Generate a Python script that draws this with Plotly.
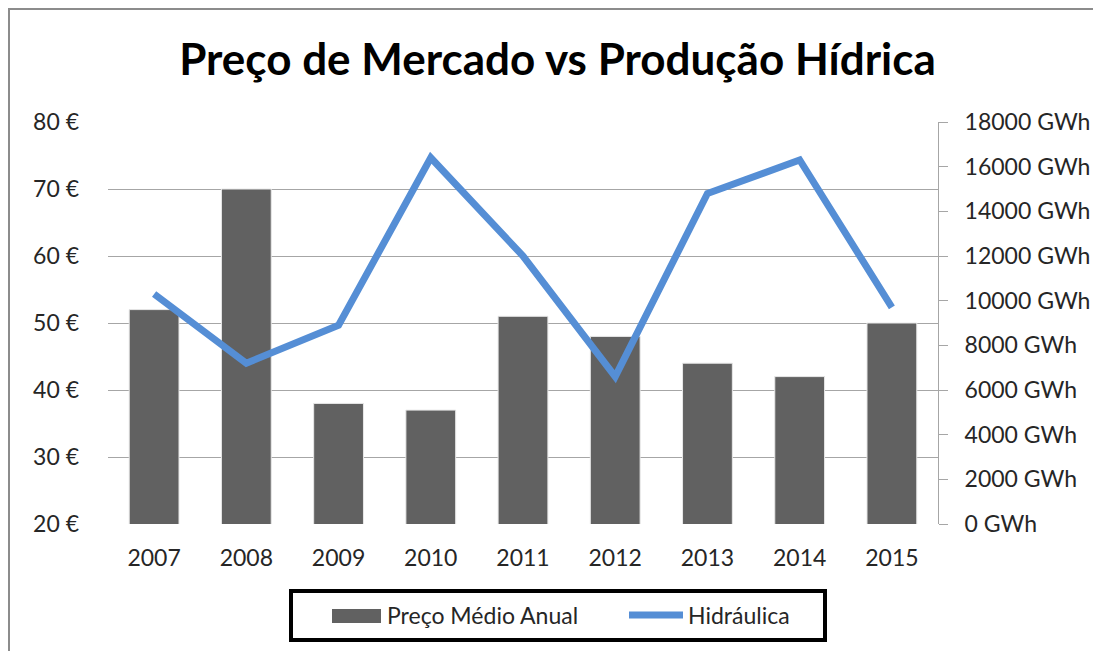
import plotly.graph_objects as go

years = ["2007", "2008", "2009", "2010", "2011", "2012", "2013", "2014", "2015"]
preco = [52, 70, 38, 37, 51, 48, 44, 42, 50]
hidraulica = [10300, 7200, 8900, 16400, 12000, 6600, 14800, 16300, 9700]

FONT = "Lato"
TXT = "#262626"
BAR_C = "#616161"
LINE_C = "#558ED5"

W, H = 1101, 651
L, R, T, B = 100, 171, 114, 135
PW, PH = W - L - R, H - T - B


def px(x):
    return (x - L) / PW


def py(y):
    return (H - B - y) / PH


fig = go.Figure()
fig.add_trace(go.Bar(
    x=years, y=preco, name="Preço Médio Anual",
    marker=dict(color=BAR_C, line=dict(color="#E8E8E8", width=1)),
    yaxis="y", showlegend=False,
))
fig.add_trace(go.Scatter(
    x=years, y=hidraulica, name="Hidráulica", mode="lines",
    line=dict(color=LINE_C, width=7), yaxis="y2", showlegend=False,
))

shapes = [
    # chart border
    dict(type="rect", xref="paper", yref="paper",
         x0=px(1), x1=px(W - 1), y0=py(H - 1), y1=py(1),
         line=dict(color="#8C8C8C", width=2), layer="below"),
    # legend box
    dict(type="rect", xref="paper", yref="paper",
         x0=px(283), x1=px(817), y0=py(632), y1=py(583),
         line=dict(color="#000000", width=4), fillcolor="white"),
    # legend symbols
    dict(type="rect", xref="paper", yref="paper",
         x0=px(324), x1=px(373), y0=py(615), y1=py(601),
         line=dict(width=0), fillcolor=BAR_C),
    dict(type="line", xref="paper", yref="paper",
         x0=px(621), x1=px(675), y0=py(607), y1=py(607),
         line=dict(color=LINE_C, width=7)),
]
annotations = [
    dict(text="Preço Médio Anual", xref="paper", yref="paper",
         x=px(377), y=py(607), xanchor="left", yanchor="middle", showarrow=False,
         font=dict(family=FONT, size=23, color=TXT)),
    dict(text="Hidráulica", xref="paper", yref="paper",
         x=px(678), y=py(607), xanchor="left", yanchor="middle", showarrow=False,
         font=dict(family=FONT, size=23, color=TXT)),
]

fig.update_layout(
    width=W, height=H,
    margin=dict(l=L, r=R, t=T, b=B),
    paper_bgcolor="white", plot_bgcolor="white",
    font=dict(family=FONT, size=23, color=TXT),
    title=dict(text="<b>Preço de Mercado vs Produção Hídrica</b>",
               x=549.5 / W, xanchor="center", y=0.92, yanchor="middle",
               font=dict(family=FONT, size=44, color="#000000")),
    bargap=0.46,
    showlegend=False,
    xaxis=dict(type="category", showgrid=False, showline=False, ticks="",
               tickfont=dict(size=23), ticklabelstandoff=18),
    yaxis=dict(range=[20, 80], dtick=10, ticksuffix=" €", showgrid=True,
               gridcolor="#A6A6A6", gridwidth=1, zeroline=False, showline=False,
               ticks="", tickfont=dict(size=23), ticklabelstandoff=28),
    yaxis2=dict(range=[0, 18000], dtick=2000, tickformat="d", ticksuffix=" GWh",
                overlaying="y", side="right", showgrid=False, zeroline=False,
                showline=True, linecolor="#A6A6A6", linewidth=1,
                ticks="outside", ticklen=9, tickcolor="#A6A6A6",
                tickfont=dict(size=23), ticklabelstandoff=12),
    shapes=shapes,
    annotations=annotations,
)

fig.write_html("out.html")
